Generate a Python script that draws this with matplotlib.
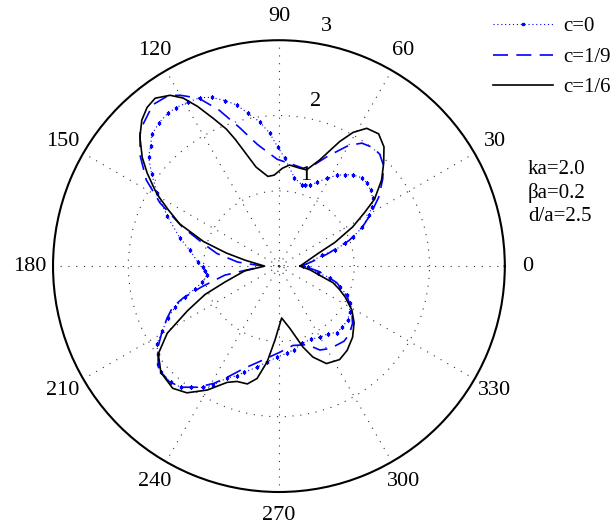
import numpy as np
import matplotlib
matplotlib.use('Agg')
import matplotlib.pyplot as plt

plt.rcParams['font.family'] = 'Liberation Serif'

# pattern data, angle in degrees, r
theta_c0 = [0, 14, 16, 19, 21.4, 25, 29.5, 32.4, 36, 39.6, 43.3, 46.7, 51, 54, 57.5, 61.4, 65.7, 69, 72, 74,
            80, 87, 90.5, 94, 97.5, 101.5, 104.6, 108, 111.6, 115, 119, 123, 126, 130, 134, 137, 140, 144,
            149, 156, 164, 170, 177, 181, 184, 187, 192, 195, 198, 201.5, 205, 209, 212.5, 216, 219, 222,
            227, 231, 234, 238, 241, 245, 249, 252, 258, 263, 269, 275, 280, 287, 294, 300, 306, 311, 316,
            322, 327, 332.5, 337, 341, 347, 350, 358, 360]
r_c0 = [0.32, 0.59, 0.77, 0.93, 1.06, 1.22, 1.37, 1.46, 1.54, 1.58, 1.61, 1.61, 1.56, 1.50, 1.43, 1.33, 1.22, 1.15, 1.13, 1.12,
        1.19, 1.44, 1.58, 1.77, 1.93, 2.07, 2.21, 2.31, 2.41, 2.47, 2.49, 2.51, 2.51, 2.48, 2.43, 2.33, 2.26, 2.09,
        1.89, 1.62, 1.37, 1.20, 1.08, 1.01, 0.98, 0.96, 1.04, 1.15, 1.31, 1.48, 1.63, 1.77, 1.92, 1.99, 2.06, 2.10,
        2.11, 2.07, 1.99, 1.90, 1.81, 1.64, 1.56, 1.48, 1.37, 1.28, 1.21, 1.16, 1.13, 1.07, 1.06, 1.09, 1.11, 1.17, 1.17,
        1.16, 1.12, 1.06, 0.98, 0.86, 0.70, 0.53, 0.39, 0.32]

theta_c19 = [0, 8, 14, 20, 25, 29, 34.6, 40, 44, 48, 51.5, 56, 60, 66, 71, 76, 84, 91, 100, 106, 111, 115.5,
             120, 123, 128, 135.6, 141.4, 147, 152, 158, 164, 168.5, 174.4, 180, 189.5, 195, 198.4, 201, 205,
             209, 214, 220, 226, 231, 236, 241, 245, 251, 260, 271, 280, 290, 296, 302, 311, 316, 322, 329,
             336, 344, 352, 358, 360]
r_c19 = [0.30, 0.45, 0.66, 0.99, 1.22, 1.38, 1.61, 1.80, 1.93, 2.00, 2.01, 1.97, 1.85, 1.60, 1.42, 1.34, 1.37, 1.42, 1.64, 1.92, 2.22, 2.47,
         2.62, 2.70, 2.72, 2.58, 2.36, 2.10, 1.79, 1.38, 1.02, 0.84, 0.55, 0.21, 0.73, 1.06, 1.34, 1.51, 1.64,
         1.77, 1.94, 2.09, 2.12, 2.07, 1.94, 1.78, 1.63, 1.44, 1.27, 1.14, 1.07, 1.11, 1.24, 1.29, 1.32, 1.30, 1.24, 1.13,
         0.99, 0.80, 0.55, 0.37, 0.30]

theta_c16 = [0, 18, 23, 28, 32, 35, 40, 44.5, 48.6, 53, 57.5, 61, 64, 69, 74, 78, 84, 88, 93, 97, 103, 109, 111,
             114, 117, 119.7, 122.5, 126.4, 129.7, 133.2, 137.1, 141.5, 144.8, 148.5, 150.3, 153, 157, 162, 166,
             170, 180, 188, 196.5, 201, 206, 211, 216, 222, 229, 234, 240, 246, 250, 255, 259, 263, 267, 273,
             280, 286.5, 290.5, 296, 303, 309, 316, 323, 329, 335, 339, 343, 346, 353, 360]
r_c16 = [0.28, 0.55, 0.81, 1.11, 1.34, 1.55, 1.78, 1.95, 2.11, 2.20, 2.17, 2.03, 1.84, 1.51, 1.33, 1.33, 1.35, 1.30, 1.21, 1.20, 1.35, 1.78, 1.95,
         2.15, 2.38, 2.57, 2.69, 2.77, 2.74, 2.66, 2.52, 2.32, 2.14, 1.93, 1.82, 1.65, 1.43, 1.05, 0.72,
         0.46, 0.19, 0.46, 0.75, 1.05, 1.35, 1.73, 1.98, 2.11, 2.15, 2.08, 1.90, 1.69, 1.63, 1.62, 1.52, 1.28, 0.98, 0.69,
         0.84, 1.12, 1.29, 1.44, 1.48, 1.44, 1.36, 1.25, 1.13, 0.97, 0.86, 0.75, 0.60, 0.42, 0.28]

angle_ticks = list(range(0, 360, 30))
r_ticks = [1, 2, 3]
legend_labels = ['c=0', 'c=1/9', 'c=1/6']
params = 'ka=2.0\n\u03b2a=0.2\nd/a=2.5'

fig = plt.figure(figsize=(6.13, 5.28), dpi=100)
ax = fig.add_axes([0.0865, 0.068, 0.737, 0.856], projection='polar')

ax.plot(np.deg2rad(theta_c0), r_c0, color='blue', linestyle=(0, (1, 2.5)), lw=0.8,
        marker='s', ms=2.0, mec='blue', mfc='blue', label=legend_labels[0])
ax.plot(np.deg2rad(theta_c19), r_c19, color='blue', linestyle=(0, (9, 5)), lw=1.2, label=legend_labels[1])
ax.plot(np.deg2rad(theta_c16), r_c16, color='black', lw=1.2, label=legend_labels[2])

ax.set_ylim(0, 3)
ax.set_rgrids([0.07, 1, 2], labels=['', '', ''])
ax.set_thetagrids(angle_ticks, labels=['' for a in angle_ticks])
ax.grid(True, color='0.2', linestyle=(0, (1, 6)), lw=0.8)
ax.spines['polar'].set_linewidth(1.5)
ax.spines['polar'].set_color('black')
ax.tick_params(length=0)

for a in angle_ticks:
    ax.text(np.deg2rad(a), 3.31, str(a), ha='center', va='center', fontsize=16)
for rv in r_ticks:
    ax.annotate(str(rv), xy=(np.deg2rad(82), rv), xytext=(11.5, 11.5), textcoords='offset points',
                ha='center', va='center', fontsize=16)

fig.text(528 / 613, 1 - 193 / 528, params, ha='left', va='center', fontsize=15, linespacing=1.25)

ax.legend(loc='upper right', bbox_to_anchor=(611 / 613, 0.968), bbox_transform=fig.transFigure,
          frameon=False, fontsize=15, handlelength=2.9, handletextpad=0.5, labelspacing=0.52,
          borderpad=0, borderaxespad=0, numpoints=1)

fig.savefig('out.png', dpi=100)
